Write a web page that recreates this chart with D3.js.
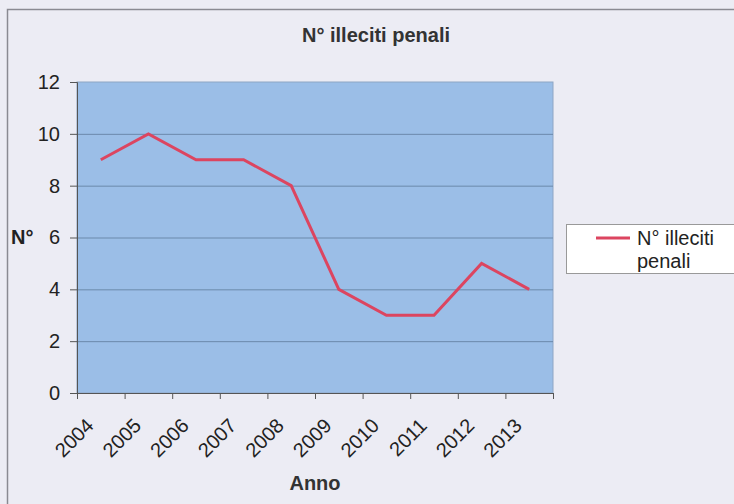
<!DOCTYPE html>
<html>
<head>
<meta charset="utf-8">
<script src="https://cdn.jsdelivr.net/npm/d3@7"></script>
<style>
  html, body { margin: 0; padding: 0; background: #ececf4; }
  svg { display: block; font-family: "Liberation Sans", Arial, sans-serif; }
</style>
</head>
<body>
<svg id="chart" width="734" height="504"></svg>
<script>
// Anni e numero di illeciti penali registrati
const years = ["2004", "2005", "2006", "2007", "2008", "2009", "2010", "2011", "2012", "2013"];
const illeciti = [9, 10, 9, 9, 8, 4, 3, 3, 5, 4];
const yTicks = [0, 2, 4, 6, 8, 10, 12];
const seriesName = "N° illeciti penali";

const svg = d3.select("#chart");
const W = 734, H = 504;
const plot = { left: 77, top: 82, right: 553, bottom: 393 };

// Sfondo e cornice
svg.append("rect").attr("width", W).attr("height", H).attr("fill", "#ececf4");
svg.append("path")
  .attr("d", `M7.5,${H} L7.5,9.5 L${W},9.5`)
  .attr("fill", "none").attr("stroke", "#8a8a92").attr("stroke-width", 1.5);

const x = d3.scaleBand().domain(years).range([plot.left, plot.right]);
const y = d3.scaleLinear().domain([0, 12]).range([plot.bottom, plot.top]);

// Area del grafico
svg.append("rect")
  .attr("x", plot.left).attr("y", plot.top)
  .attr("width", plot.right - plot.left).attr("height", plot.bottom - plot.top)
  .attr("fill", "#9bbee7").attr("stroke", "#8ea6c4").attr("stroke-width", 1);

// Griglia orizzontale
svg.append("g").selectAll("line")
  .data(yTicks.filter(d => d > 0 && d < 12))
  .join("line")
  .attr("x1", plot.left).attr("x2", plot.right)
  .attr("y1", d => y(d) + 0.5).attr("y2", d => y(d) + 0.5)
  .attr("stroke", "#6b89ab").attr("stroke-width", 1);

// Asse Y
const yAxis = svg.append("g")
  .attr("transform", `translate(${plot.left},0)`)
  .call(d3.axisLeft(y).tickValues(yTicks).tickSize(7).tickPadding(10));
yAxis.select(".domain").attr("stroke", "#555");
yAxis.selectAll(".tick line").attr("stroke", "#555");
yAxis.selectAll(".tick text")
  .attr("font-size", 20).attr("fill", "#222")
  .attr("font-family", "Liberation Sans, Arial, sans-serif");

// Asse X
const xTickPos = years.map(d => x(d)).concat([plot.right]);
const xAxisG = svg.append("g");
xAxisG.append("line")
  .attr("x1", plot.left).attr("x2", plot.right)
  .attr("y1", plot.bottom + 0.5).attr("y2", plot.bottom + 0.5)
  .attr("stroke", "#555");
xAxisG.selectAll("line.tk").data(xTickPos).join("line").attr("class", "tk")
  .attr("x1", d => d + 0.5).attr("x2", d => d + 0.5)
  .attr("y1", plot.bottom).attr("y2", plot.bottom + 6)
  .attr("stroke", "#555");
xAxisG.selectAll("text").data(years).join("text")
  .attr("transform", d => `translate(${x(d) + x.bandwidth() / 2 - 6},${plot.bottom + 34}) rotate(-45)`)
  .attr("text-anchor", "end")
  .attr("font-size", 20).attr("fill", "#222")
  .text(d => d);

// Linea della serie
const line = d3.line()
  .x((d, i) => x(years[i]) + x.bandwidth() / 2)
  .y(d => y(d));
svg.append("path")
  .datum(illeciti)
  .attr("d", line)
  .attr("fill", "none")
  .attr("stroke", "#dc4560")
  .attr("stroke-width", 3)
  .attr("stroke-linejoin", "miter");

// Titoli
svg.append("text")
  .attr("x", 376).attr("y", 42)
  .attr("text-anchor", "middle")
  .attr("font-size", 20).attr("font-weight", "bold").attr("fill", "#333")
  .text(seriesName);
svg.append("text")
  .attr("x", 11).attr("y", 244)
  .attr("font-size", 20).attr("font-weight", "bold").attr("fill", "#222")
  .text("N°");
svg.append("text")
  .attr("x", 315).attr("y", 490)
  .attr("text-anchor", "middle")
  .attr("font-size", 20).attr("font-weight", "bold").attr("fill", "#333")
  .text("Anno");

// Legenda
const leg = svg.append("g");
leg.append("rect")
  .attr("x", 566.5).attr("y", 224.5).attr("width", 180).attr("height", 49)
  .attr("fill", "#ffffff").attr("stroke", "#999").attr("stroke-width", 1);
leg.append("line")
  .attr("x1", 596).attr("x2", 630).attr("y1", 238).attr("y2", 238)
  .attr("stroke", "#dc4560").attr("stroke-width", 3);
const lt = leg.append("text").attr("font-size", 20).attr("fill", "#222");
lt.append("tspan").attr("x", 637).attr("y", 245).text("N° illeciti");
lt.append("tspan").attr("x", 637).attr("y", 268).text("penali");
</script>
</body>
</html>
